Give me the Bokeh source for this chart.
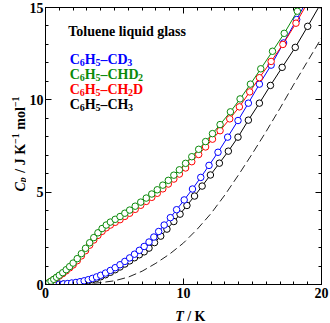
import numpy as np
from bokeh.plotting import figure
from bokeh.layouts import row, column
from bokeh.models import Range1d, LinearAxis, FixedTicker, Label, CustomJSTickFormatter
from bokeh.embed import file_html
from bokeh.resources import INLINE

# ---------------- data ----------------
T_chd2 = [0.1, 0.25, 0.4, 0.6, 0.8, 1.0, 1.25, 1.5, 1.75, 2.0, 2.3, 2.6, 2.9, 3.2, 3.5, 3.8, 4.1, 4.4,
          4.7, 5.05, 5.4, 5.75, 6.1, 6.5, 6.9, 7.3, 7.7, 8.1, 8.5, 8.9, 9.3, 9.7, 10.15, 10.6, 11.1,
          11.6, 12.1, 12.65, 13.4, 14.1, 14.85, 15.6, 16.45, 17.3, 18.25, 19.2]
Cp_chd2 = [0.03, 0.1, 0.18, 0.28, 0.39, 0.5, 0.64, 0.8, 0.97, 1.16, 1.4, 1.67, 1.96, 2.26, 2.54, 2.8,
           3.03, 3.22, 3.38, 3.53, 3.68, 3.86, 4.03, 4.24, 4.46, 4.68, 4.9, 5.13, 5.38, 5.64, 5.92,
           6.21, 6.56, 6.92, 7.32, 7.74, 8.17, 8.66, 9.35, 10.05, 10.85, 11.68, 12.63, 13.6, 14.8, 16.1]

T_ch2d = [0.1, 0.25, 0.4, 0.6, 0.8, 1.0, 1.25, 1.5, 1.75, 2.0, 2.3, 2.6, 2.9, 3.2, 3.5, 3.8, 4.1, 4.4,
          4.7, 5.05, 5.4, 5.75, 6.1, 6.5, 6.9, 7.3, 7.7, 8.1, 8.5, 8.9, 9.3, 9.7, 10.15, 10.6, 11.1,
          11.6, 12.1, 12.65, 13.35, 14.05, 14.8, 15.5, 16.35, 17.2, 18.15, 19.1]
Cp_ch2d = [0.03, 0.09, 0.17, 0.27, 0.37, 0.46, 0.59, 0.74, 0.9, 1.06, 1.29, 1.55, 1.83, 2.13, 2.41,
           2.66, 2.88, 3.07, 3.22, 3.37, 3.51, 3.69, 3.86, 4.07, 4.29, 4.5, 4.72, 4.94, 5.18, 5.44,
           5.71, 5.98, 6.31, 6.65, 7.04, 7.45, 7.87, 8.33, 8.97, 9.62, 10.43, 11.2, 12.08, 13.0, 14.15, 15.4]

T_cd3 = [0.1, 0.3, 0.5, 0.75, 1.0, 1.3, 1.6, 1.9, 2.2, 2.5, 2.8, 3.1, 3.4, 3.7, 4.0, 4.35, 4.7, 5.05,
         5.4, 5.75, 6.1, 6.45, 6.8, 7.15, 7.5, 7.85, 8.2, 8.6, 9.05, 9.5, 10.05, 10.65, 11.25, 11.85,
         12.5, 13.2, 13.95, 14.7, 15.5, 16.35, 17.25, 18.2, 19.1]
Cp_cd3 = [0.0, 0.0, 0.01, 0.01, 0.02, 0.03, 0.05, 0.08, 0.11, 0.15, 0.2, 0.26, 0.33, 0.41, 0.5, 0.62,
          0.76, 0.91, 1.07, 1.25, 1.44, 1.64, 1.85, 2.06, 2.3, 2.57, 2.87, 3.22, 3.62, 4.05, 4.58,
          5.17, 5.8, 6.45, 7.16, 7.98, 8.88, 9.82, 10.85, 11.88, 13.08, 14.35, 15.6]

T_ch3 = [0.1, 0.3, 0.5, 0.75, 1.0, 1.3, 1.6, 1.9, 2.2, 2.5, 2.8, 3.1, 3.4, 3.7, 4.0, 4.35, 4.7, 5.05,
         5.4, 5.75, 6.1, 6.45, 6.8, 7.15, 7.5, 7.9, 8.35, 8.8, 9.3, 9.75, 10.25, 10.8, 11.35, 11.95,
         12.6, 13.25, 13.95, 14.7, 15.5, 16.3, 17.15, 18.1, 19.0, 19.9]
Cp_ch3 = [0.0, 0.0, 0.0, 0.01, 0.01, 0.02, 0.03, 0.05, 0.08, 0.11, 0.15, 0.2, 0.26, 0.33, 0.42, 0.53,
          0.66, 0.8, 0.95, 1.11, 1.28, 1.45, 1.61, 1.77, 1.97, 2.27, 2.62, 3.0, 3.41, 3.81, 4.28,
          4.79, 5.33, 5.93, 6.57, 7.22, 7.98, 8.9, 9.82, 10.78, 11.76, 12.84, 13.98, 15.15]

T_dash = [0, 1, 2, 3, 4, 5, 6, 7, 8, 9, 10, 11, 12, 13, 14, 15, 16, 17, 18, 19, 20]
Cp_dash = [0.0, 0.0, 0.01, 0.04, 0.1, 0.2, 0.4, 0.72, 1.15, 1.65, 2.25, 3.0, 3.85, 4.85, 5.95, 7.1,
           8.3, 9.55, 10.85, 12.1, 13.35]

x_ticks = [0, 10, 20]
y_ticks = [0, 5, 10, 15]

# ---------------- layout (pixels of the 330x323 page) ----------------
W, H = 330, 323
FL, FR, FT, FB = 42, 321, 7, 284       # plot frame edges
LW = 26                                # width of the strip holding the y title
BH = 18                                # height of the strip holding the x title
XMIN, XMAX, YMIN, YMAX = 0, 20, 0, 15
FONT = "Liberation Serif"

BLUE, GREEN, RED, BLACK = "#0000ff", "#0a8a0a", "#ff0000", "#000000"

MW, MH = W - LW, H - BH
p = figure(width=MW, height=MH, output_backend="svg", toolbar_location=None,
           x_range=Range1d(XMIN, XMAX), y_range=Range1d(YMIN, YMAX),
           min_border_left=FL - LW, min_border_right=W - FR,
           min_border_top=FT, min_border_bottom=MH - FB)
p.xgrid.grid_line_color = None
p.ygrid.grid_line_color = None
p.outline_line_color = "black"
p.outline_line_alpha = 1.0
p.background_fill_color = "white"
p.border_fill_color = "white"

def style_axis(ax, ticks, minor, show_labels, standoff):
    ax.ticker = FixedTicker(ticks=ticks, minor_ticks=minor)
    ax.axis_line_color = "black"
    ax.major_tick_in = 6
    ax.major_tick_out = 0
    ax.minor_tick_in = 3
    ax.minor_tick_out = 0
    ax.major_tick_line_color = "black"
    ax.minor_tick_line_color = "black"
    ax.major_label_standoff = standoff
    if show_labels:
        ax.major_label_text_font = FONT
        ax.major_label_text_font_style = "bold"
        ax.major_label_text_font_size = "14px"
        ax.major_label_text_color = "black"
    else:
        ax.formatter = CustomJSTickFormatter(code="return ''")
        ax.major_label_text_font_size = "0px"

xminor = list(range(0, 21))
yminor = list(range(0, 16))
style_axis(p.xaxis[0], x_ticks, xminor, True, 3)
style_axis(p.yaxis[0], y_ticks, yminor, True, 2)
top = LinearAxis()
right = LinearAxis()
p.add_layout(top, "above")
p.add_layout(right, "right")
style_axis(top, x_ticks, xminor, False, 0)
style_axis(right, y_ticks, yminor, False, 0)

# ---------------- data glyphs ----------------
p.line(T_dash, Cp_dash, line_color="#222222", line_width=1, line_dash="8 4")
for T, C, col in [(T_ch3, Cp_ch3, BLACK), (T_cd3, Cp_cd3, BLUE),
                  (T_ch2d, Cp_ch2d, RED), (T_chd2, Cp_chd2, GREEN)]:
    p.line(T, C, line_color=col, line_width=1)
    p.scatter(T, C, marker="circle", size=6.5, line_color=col, fill_color="white", line_width=1)

# ---------------- helper strips for the axis titles ----------------
def strip(w, h):
    f = figure(width=w, height=h, output_backend="svg", toolbar_location=None,
               x_range=Range1d(0, w), y_range=Range1d(0, h),
               x_axis_type=None, y_axis_type=None, min_border=0)
    f.xgrid.grid_line_color = None
    f.ygrid.grid_line_color = None
    f.outline_line_color = None
    f.background_fill_color = "white"
    f.border_fill_color = "white"
    return f

yfig = strip(LW, H)
xfig = strip(MW, BH)

# ---------------- rich text helpers ----------------
BOLD_W = {" ": 250, "0": 500, "1": 500, "2": 500, "3": 500, "5": 500, "6": 500, "C": 722, "D": 722,
          "H": 778, "K": 778, "T": 667, "J": 500, "/": 278, "\u2013": 500, "\u2212": 570,
          "a": 500, "d": 556, "e": 444, "g": 500, "i": 278, "l": 278, "m": 833, "n": 556,
          "o": 500, "q": 556, "s": 389, "u": 556}
BI_W = {"C": 667, "p": 500, "T": 611}

def tw(s, size, italic):
    tbl = BI_W if italic else BOLD_W
    return sum(tbl.get(ch, 500) for ch in s) * size / 1000.0

def main_xy(px, py):
    return (XMIN + (px - FL) * (XMAX - XMIN) / (FR - FL),
            YMIN + (FB - py) * (YMAX - YMIN) / (FB - FT))

def yfig_xy(px, py):
    return px, H - py

def xfig_xy(px, py):
    return px - LW, H - py

def rich(fig, conv, segments, x0, base, color="black", vertical=False):
    pos = 0.0
    for txt, size, italic, dy, gap in segments:
        # SVG collapses leading/trailing blanks: turn them into explicit advances
        lead = len(txt) - len(txt.lstrip(" "))
        pos += tw(" " * lead, size, italic)
        core = txt.strip(" ")
        trail = len(txt) - lead - len(core)
        if vertical:
            sx, sy = base + dy, x0 - pos
            ang = np.pi / 2
        else:
            sx, sy = x0 + pos, base + dy
            ang = 0
        x, y = conv(sx, sy)
        fig.add_layout(Label(x=x, y=y, text=core, angle=ang,
                             text_font=FONT, text_font_style="bold italic" if italic else "bold",
                             text_font_size=f"{size}px", text_color=color,
                             text_align="left", text_baseline="alphabetic"))
        pos += tw(core, size, italic) + tw(" " * max(trail, 0), size, italic) + gap

S, s = 14, 10
rich(p, main_xy, [("Toluene liquid glass", S, False, 0, 0)], 65, 30.5)

def formula(tail, tail_sub):
    seg = [("C", S, False, 0, 0), ("6", s, False, 3, 0), ("H", S, False, 0, 0),
           ("5", s, False, 3, 0), ("\u2013" + tail, S, False, 0, 0)]
    seg.append((tail_sub[0], s, False, 3, 0))
    if len(tail_sub) > 1:
        seg.append((tail_sub[1], S, False, 0, 0))
    return seg

rich(p, main_xy, formula("CD", ("3",)), 66.5, 58.5, BLUE)
rich(p, main_xy, formula("CHD", ("2",)), 66.5, 73.5, GREEN)
rich(p, main_xy, formula("CH", ("2", "D")), 66.5, 88.5, RED)
rich(p, main_xy, formula("CH", ("3",)), 66.5, 103.5, BLACK)

# axis titles
rich(xfig, xfig_xy, [("T", S, True, 0, 1), (" / K", S, False, 0, 0)], 169, 316)
rich(yfig, yfig_xy, [("C", S, True, 0, 0), ("p", s, True, 2, 1), (" / J K", S, False, 0, 0),
                     ("\u22121", s, False, -5, 0), (" mol", S, False, 0, 0),
                     ("\u22121", s, False, -5, 0)],
     191, 19.5, vertical=True)

layout = row(yfig, column(p, xfig, spacing=0), spacing=0)
open("out.html", "w").write(file_html(layout, INLINE))
